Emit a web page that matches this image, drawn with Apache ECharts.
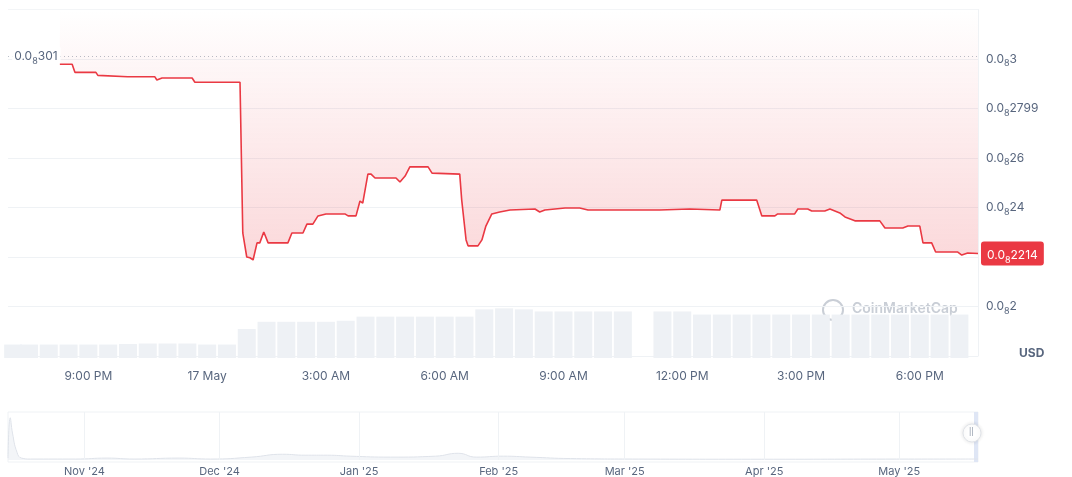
<!DOCTYPE html>
<html>
<head>
<meta charset="utf-8">
<script src="https://cdn.jsdelivr.net/npm/echarts@6/dist/echarts.min.js"></script>
<style>
  html, body { margin: 0; padding: 0; background: #fff; }
  #chart { width: 1072px; height: 477px; }
</style>
</head>
<body>
<div id="chart"></div>
<script>
// hours since 16 May 00:00
var priceHours = [20.28, 20.59, 20.66, 21.19, 21.24, 21.99, 22.68, 22.73, 22.86, 23.62, 23.69, 24.83,
  24.90, 25.00, 25.08, 25.16, 25.26, 25.33, 25.43, 25.54, 26.04, 26.14, 26.42, 26.52, 26.67, 26.80,
  27.00, 27.48, 27.56, 27.76, 27.86, 27.93, 28.06, 28.14, 28.24, 28.77, 28.87, 29.00, 29.12, 29.58,
  29.68, 30.38, 30.43, 30.54, 30.59, 30.84, 30.94, 31.04, 31.19, 31.39, 31.65, 32.28, 32.40, 32.53,
  33.04, 33.41, 33.62, 35.43, 36.19, 36.95, 37.00, 37.88, 38.01, 38.34, 38.41, 38.84, 38.92, 39.17,
  39.27, 39.60, 39.73, 39.98, 40.11, 40.36, 40.99, 41.12, 41.57, 41.70, 42.00, 42.08, 42.30, 42.40,
  42.96, 43.06, 43.21, 43.47];
// price in units of 0.0(8 zeros)x
var priceValues = [0.2979, 0.2979, 0.2946, 0.2946, 0.2934, 0.2928, 0.2928, 0.2915, 0.2923, 0.2923, 0.2906, 0.2906,
  0.2297, 0.2200, 0.2197, 0.2188, 0.2257, 0.2257, 0.2301, 0.2257, 0.2257, 0.2297, 0.2297, 0.2333, 0.2333, 0.2366,
  0.2374, 0.2374, 0.2366, 0.2366, 0.2426, 0.2418, 0.2535, 0.2535, 0.2519, 0.2519, 0.2503, 0.2527, 0.2564, 0.2564,
  0.2539, 0.2535, 0.2430, 0.2269, 0.2245, 0.2245, 0.2269, 0.2325, 0.2374, 0.2382, 0.2390, 0.2394, 0.2382, 0.2390,
  0.2398, 0.2398, 0.2390, 0.2390, 0.2394, 0.2390, 0.2430, 0.2430, 0.2366, 0.2366, 0.2374, 0.2374, 0.2394, 0.2394,
  0.2386, 0.2386, 0.2394, 0.2378, 0.2362, 0.2346, 0.2346, 0.2317, 0.2317, 0.2325, 0.2325, 0.2257, 0.2257, 0.2220,
  0.2220, 0.2208, 0.2216, 0.2214];
var openPrice = 0.301;
var lastPrice = 0.2214;

var volumeHours = [19.1, 19.5, 20, 20.5, 21, 21.5, 22, 22.5, 23, 23.5, 24, 24.5, 25, 25.5, 26, 26.5, 27, 27.5,
  28, 28.5, 29, 29.5, 30, 30.5, 31, 31.5, 32, 32.5, 33, 33.5, 34, 34.5, 35, 35.5, 36, 36.5, 37, 37.5,
  38, 38.5, 39, 39.5, 40, 40.5, 41, 41.5, 42, 42.5, 43];
var volumeValues = [13, 13, 13, 13, 13, 13, 13.5, 14, 14, 14, 13, 13, 28, 35, 35, 35, 35, 36,
  40, 40, 40, 40, 40, 40, 47, 48, 47, 45, 45, 45, 45, 45, 0, 45, 45, 42, 42, 42,
  42, 42, 42, 42, 42, 42, 42, 42, 42, 42, 42];

var hourTicks = [21, 24, 27, 30, 33, 36, 39, 42];
var hourLabels = ['9:00 PM', '17 May', '3:00 AM', '6:00 AM', '9:00 AM', '12:00 PM', '3:00 PM', '6:00 PM'];
var priceTicks = [0.2, 0.22, 0.24, 0.26, 0.28, 0.3];
var priceTickLabels = ['2', '', '24', '26', '2799', '3'];

// overview: days since 15 Oct 2024
var overviewDays = [0, 0.5, 1, 2, 3, 5, 15, 22, 28, 38, 45, 54, 61, 66, 71, 76, 85, 95, 100, 104, 110, 116, 125, 140, 170, 200, 215.5];
var overviewValues = [2, 44, 28, 8, 2, 1, 1, 2, 1, 2, 1, 3, 6, 5, 5, 4, 3, 4, 7, 3, 4, 3, 1.5, 1, 0.8, 1, 1];
var monthTicks = [17, 47, 78, 109, 137, 168, 198];
var monthLabels = ["Nov '24", "Dec '24", "Jan '25", "Feb '25", "Mar '25", "Apr '25", "May '25"];

var red = '#ea3943';
var textGray = '#58667e';
var gridGray = '#eff2f5';

var sub = { fontSize: 9, padding: [9, 0, 0, 0], color: textGray };
function priceText(str) { return '0.0{s|8}' + str; }

var chart = echarts.init(document.getElementById('chart'));
var linePts = priceHours.map(function (h, i) { return [h, priceValues[i]]; });

var option = {
  animation: false,
  textStyle: { fontFamily: 'Inter, sans-serif' },
  grid: [
    { left: 8, right: 94, top: 9.5, bottom: 121 },
    { left: 8, right: 94, top: 298, bottom: 119 },
    { left: 8, right: 94, top: 412, bottom: 15 }
  ],
  xAxis: [{
    type: 'value', gridIndex: 0, min: 18.97, max: 43.47,
    axisLine: { show: false }, axisTick: { show: false }, splitLine: { show: false },
    axisLabel: {
      customValues: hourTicks, margin: 14, color: textGray, fontSize: 12,
      formatter: function (v) { return hourLabels[hourTicks.indexOf(v)] || ''; }
    }
  }, {
    type: 'value', gridIndex: 1, min: 18.97, max: 43.47, show: false
  }, {
    type: 'value', gridIndex: 2, min: 0, max: 215.5,
    axisLine: { show: false }, axisTick: { show: false },
    splitLine: { show: false },
    axisLabel: {
      customValues: monthTicks, margin: 6, color: textGray, fontSize: 11,
      formatter: function (v) { return monthLabels[monthTicks.indexOf(v)] || ''; }
    }
  }],
  yAxis: [{
    type: 'value', gridIndex: 0, position: 'right', min: 0.18, max: 0.32, interval: 0.02,
    axisLine: { show: true, lineStyle: { color: gridGray } }, axisTick: { show: false },
    splitLine: { lineStyle: { color: gridGray } },
    axisLabel: {
      margin: 8, color: textGray, fontSize: 12,
      rich: { s: sub },
      formatter: function (v) {
        var i = priceTicks.findIndex(function (t) { return Math.abs(t - v) < 1e-6; });
        if (i < 0 || !priceTickLabels[i]) return '';
        return priceText(priceTickLabels[i]);
      }
    }
  }, {
    type: 'value', gridIndex: 1, min: 0, max: 58, show: false
  }, {
    type: 'value', gridIndex: 2, min: 0, max: 50, show: false
  }],
  graphic: [
    { type: 'text', left: 1019, top: 347, style: { text: 'USD', fill: textGray, font: 'bold 12px Inter, sans-serif' } },
    { type: 'text', left: 852, top: 302, style: { text: 'CoinMarketCap', fill: '#c9ced6', font: '600 14px Inter, sans-serif' } },
    { type: 'circle', shape: { cx: 833, cy: 310, r: 10 }, style: { fill: 'none', stroke: '#c9ced6', lineWidth: 2 } },
    { type: 'rect', shape: { x: 8, y: 412, width: 970, height: 50 }, style: { fill: 'none', stroke: gridGray } },
    { type: 'rect', shape: { x: 974, y: 412, width: 4, height: 50 }, style: { fill: '#dfe6f5' } },
    { type: 'circle', shape: { cx: 972, cy: 433, r: 9 }, style: { fill: '#fff', stroke: '#e0e3e8', shadowBlur: 4, shadowColor: 'rgba(0,0,0,0.12)' } },
    { type: 'text', x: 969, y: 427, style: { text: '||', fill: '#9aa3b0', font: '9px sans-serif' } }
  ],
  series: [{
    type: 'bar', xAxisIndex: 1, yAxisIndex: 1, barWidth: 18,
    data: volumeHours.map(function (h, i) { return [h, volumeValues[i]]; }),
    itemStyle: { color: '#eef1f5' }, silent: true
  }, {
    // price line, area filled up to the top of the grid
    type: 'line', xAxisIndex: 0, yAxisIndex: 0, data: linePts,
    showSymbol: false, lineStyle: { color: red, width: 1.6 }, z: 5,
    areaStyle: {
      origin: 'end',
      color: new echarts.graphic.LinearGradient(0, 0, 0, 1, [
        { offset: 0, color: 'rgba(234,57,67,0.0)' },
        { offset: 1, color: 'rgba(234,57,67,0.28)' }
      ])
    },
    markPoint: {
      symbol: 'circle', symbolSize: 0,
      data: [{
        coord: [43.47, lastPrice],
        label: {
          show: true, position: 'right', distance: 3, backgroundColor: red, borderRadius: 3,
          padding: [5, 6, 1, 6], color: '#fff', fontSize: 12,
          rich: { s: { fontSize: 9, padding: [9, 0, 0, 0], color: '#fff' } },
          formatter: priceText('2214')
        }
      }]
    }
  }, {
    // white mask above the open price, plus dotted open line
    type: 'line', xAxisIndex: 0, yAxisIndex: 0,
    data: [[18.97, openPrice], [43.47, openPrice]],
    showSymbol: false, lineStyle: { width: 0 }, z: 3, silent: true,
    areaStyle: { origin: 'end', color: '#fff', opacity: 1 },
    markLine: {
      silent: true, symbol: 'none',
      lineStyle: { color: '#b8bec8', type: [1, 3], width: 1 },
      label: { show: false },
      data: [[{ coord: [18.97, openPrice] }, { coord: [43.47, openPrice] }]]
    },
    markPoint: {
      symbol: 'circle', symbolSize: 0,
      data: [{
        coord: [19.05, openPrice],
        label: {
          show: true, position: 'right', distance: 1, backgroundColor: '#fff', padding: [0, 3, 0, 2],
          color: textGray, fontSize: 12, rich: { s: sub }, formatter: priceText('301')
        }
      }]
    }
  }, {
    type: 'line', xAxisIndex: 2, yAxisIndex: 2,
    data: overviewDays.map(function (d, i) { return [d, overviewValues[i]]; }),
    smooth: true, showSymbol: false, lineStyle: { color: '#dfe3ea', width: 1 },
    areaStyle: { color: '#eef1f5' }, silent: true,
    markLine: {
      silent: true, symbol: 'none', label: { show: false },
      lineStyle: { color: gridGray, type: 'solid', width: 1 },
      data: monthTicks.map(function (d) { return { xAxis: d }; })
    }
  }]
};
chart.setOption(option);
</script>
</body>
</html>
